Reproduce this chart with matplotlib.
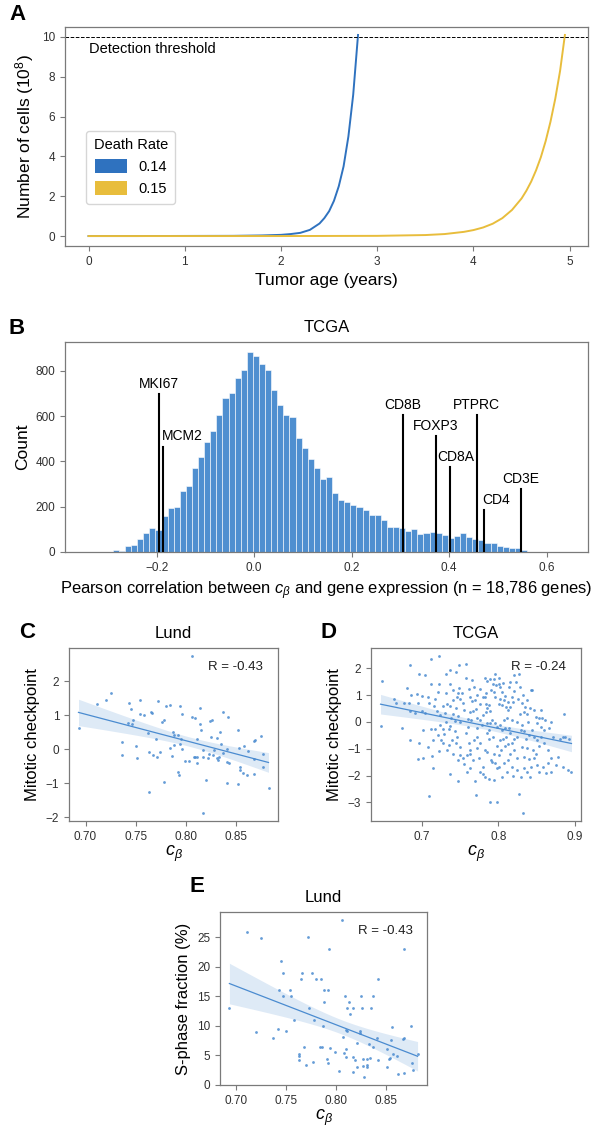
import matplotlib
matplotlib.use("Agg")
import matplotlib.pyplot as plt
from matplotlib.patches import Patch
import numpy as np

plt.rcParams['font.family'] = ['Liberation Sans', 'DejaVu Sans']
plt.rcParams['mathtext.fontset'] = 'custom'
plt.rcParams['mathtext.it'] = 'Liberation Sans:italic'
plt.rcParams['mathtext.rm'] = 'Liberation Sans'

# ---- panel A: tumour growth curves
blue_t = [0.0, 0.5, 1.0, 1.5, 1.8, 2.0, 2.1, 2.2, 2.3, 2.4, 2.45, 2.5, 2.55, 2.6, 2.65, 2.7, 2.75, 2.8]
blue_n = [0.0, 0.0, 0.005, 0.01, 0.03, 0.06, 0.1, 0.16, 0.31, 0.63, 0.9, 1.25, 1.77, 2.5, 3.5, 5.0, 7.1, 10.1]
yellow_t = [0.0, 1.0, 2.0, 3.0, 3.5, 3.7, 3.9, 4.0, 4.1, 4.2, 4.3, 4.4, 4.5, 4.55, 4.6, 4.65, 4.7,
            4.75, 4.8, 4.85, 4.9, 4.95]
yellow_n = [0.0, 0.0, 0.0, 0.01, 0.05, 0.1, 0.21, 0.3, 0.43, 0.62, 0.9, 1.31, 1.89, 2.28, 2.74, 3.3, 3.96,
            4.77, 5.74, 6.9, 8.3, 10.1]
death_rates = ["0.14", "0.15"]

# ---- panel B: histogram of correlations (bin width 0.0125 starting at -0.29)
hist_start = -0.29
bin_width = 0.0125
hist_counts = [7, 3, 26, 29, 56, 82, 106, 99, 160, 193,
               200, 269, 293, 372, 419, 486, 532, 603, 679, 700,
               768, 804, 882, 865, 828, 805, 715, 649, 605, 598,
               503, 458, 410, 372, 322, 332, 260, 229, 219, 207,
               200, 186, 162, 164, 140, 110, 110, 104, 93, 100,
               79, 82, 90, 86, 76, 64, 72, 84, 67, 57,
               54, 39, 41, 26, 23, 19, 19, 9, 1, 0, 2]
genes = ["MKI67", "MCM2", "CD8B", "FOXP3", "CD8A", "PTPRC", "CD4", "CD3E"]
gene_corr = [-0.1946, -0.1864, 0.3046, 0.373, 0.4023, 0.457, 0.472, 0.547]
gene_height = [698, 465, 605, 512, 375, 605, 186, 279]

# ---- panel C: Lund, c_beta vs mitotic checkpoint
lund_mitotic = [
    (0.806, 2.74), (0.725, 1.66), (0.720, 1.43), (0.711, 1.34), (0.693, 0.62), (0.743, 1.36),
    (0.754, 1.43), (0.745, 1.17), (0.772, 1.40), (0.780, 1.28), (0.784, 1.30), (0.794, 1.27),
    (0.754, 1.03), (0.758, 1.01), (0.765, 1.08), (0.766, 1.06), (0.747, 0.86), (0.742, 0.77),
    (0.746, 0.74), (0.776, 0.81), (0.778, 0.86), (0.796, 1.04), (0.806, 0.94), (0.809, 0.92),
    (0.814, 1.20), (0.814, 0.74), (0.815, 0.56), (0.824, 0.82), (0.826, 0.86), (0.837, 1.10),
    (0.842, 0.94), (0.852, 0.56), (0.875, 0.40), (0.762, 0.47), (0.770, 0.31), (0.787, 0.50),
    (0.788, 0.41), (0.792, 0.43), (0.795, 0.30), (0.788, 0.12), (0.784, 0.03), (0.794, 0.14),
    (0.796, 0.00), (0.786, -0.20), (0.736, 0.21), (0.736, -0.18), (0.750, 0.09), (0.751, -0.27),
    (0.763, -0.08), (0.767, -0.16), (0.771, -0.23), (0.774, -0.09), (0.778, -0.96), (0.763, -1.27),
    (0.792, -0.66), (0.793, -0.75), (0.799, -0.34), (0.803, -0.36), (0.808, -0.22), (0.809, -0.22),
    (0.811, -0.22), (0.811, -0.41), (0.811, 0.29), (0.817, -0.02), (0.817, -0.22), (0.820, -0.91),
    (0.817, -1.88), (0.822, -0.27), (0.825, 0.35), (0.828, -0.03), (0.827, -0.17), (0.831, -0.25),
    (0.832, -0.31), (0.833, -0.24), (0.831, 0.33), (0.834, 0.50), (0.835, 0.16), (0.837, -0.11),
    (0.841, -0.39), (0.841, -1.00), (0.853, 0.03), (0.858, 0.08), (0.862, -0.05), (0.852, -1.03),
    (0.854, -0.52), (0.854, -0.61), (0.857, -0.70), (0.861, -0.75), (0.868, -0.73), (0.868, 0.24),
    (0.869, 0.28), (0.877, -0.15), (0.877, -0.53), (0.882, -1.15), (0.841, -0.01), (0.843, -0.41),
    (0.868, -0.29), (0.823, -0.13)]

# ---- panel D: TCGA, c_beta vs mitotic checkpoint
tcga_mitotic = [
    (0.6456, -0.16), (0.6478, 1.52), (0.6836, 2.12), (0.712, 2.35), (0.7221, 2.46), (0.6956, 1.78),
    (0.704, 1.75), (0.7124, 1.43), (0.7221, 1.43), (0.7487, 2.12), (0.758, 2.17), (0.7367, 1.93),
    (0.7314, 1.78), (0.7451, 1.85), (0.7575, 1.65), (0.7367, 1.42), (0.748, 1.28), (0.68, 1.27),
    (0.685, 1.01), (0.693, 1.03), (0.70, 0.96), (0.6633, 0.85), (0.6664, 0.71), (0.676, 0.70),
    (0.6827, 0.69), (0.6836, 0.39), (0.6911, 0.34), (0.6942, 0.71), (0.70, 0.39), (0.7044, 0.34),
    (0.7088, 0.71), (0.708, 0.91), (0.716, 0.61), (0.7195, 0.40), (0.723, 0.26), (0.7274, 0.61),
    (0.7301, 0.34), (0.7332, 0.68), (0.6743, -0.24), (0.7018, -0.31), (0.7115, -0.28), (0.6956, -0.80),
    (0.6836, -0.69), (0.7009, -1.33), (0.6947, -1.39), (0.7133, -1.28), (0.715, -1.71), (0.722, -1.08),
    (0.7248, -0.66), (0.7164, -0.28), (0.7239, -0.12), (0.7292, -0.46), (0.7274, -0.80), (0.7327, -1.05),
    (0.7367, -1.93), (0.7473, -2.22), (0.7088, -2.76), (0.7708, -2.74), (0.7894, -2.98), (0.7978, -2.98),
    (0.827, -2.67), (0.8319, -3.40), (0.7363, -0.15), (0.738, 0.15), (0.7407, 0.31), (0.7442, 0.51),
    (0.746, 0.93), (0.7478, 1.09), (0.7518, 1.06), (0.75, 0.85), (0.7531, 0.69), (0.7549, 0.46),
    (0.7478, 0.21), (0.75, 0.01), (0.7434, -0.33), (0.746, -0.57), (0.7442, -0.80), (0.7504, -1.24),
    (0.7544, -1.33), (0.7584, -1.24), (0.7628, -1.71), (0.7611, -0.78), (0.7575, -0.43), (0.7602, -0.19),
    (0.7646, 0.06), (0.7602, 0.11), (0.7624, 0.37), (0.7673, 0.40), (0.7708, 0.49), (0.77, 0.83),
    (0.7655, 0.77), (0.7628, 0.93), (0.7611, 1.24), (0.7717, 1.0), (0.7761, 1.24), (0.7797, 0.93),
    (0.7761, 0.68), (0.7726, 0.16), (0.7761, 0.06), (0.7805, 0.24), (0.7783, -0.12), (0.7726, -0.21),
    (0.7726, -0.56), (0.7681, -0.68), (0.7761, -0.80), (0.7717, -0.99), (0.7823, -1.05), (0.7743, -1.33),
    (0.7628, -1.21), (0.7805, -1.67), (0.7699, -2.22), (0.7903, -1.42), (0.792, -1.49), (0.7938, -1.18),
    (0.7982, -1.73), (0.8005, -1.67), (0.7929, -0.56), (0.7858, -0.41), (0.7872, -0.62), (0.7881, -0.31),
    (0.7849, -0.06), (0.7894, -0.06), (0.7916, 0.06), (0.7841, 0.37), (0.7858, 0.50), (0.7894, 0.40),
    (0.7876, 0.62), (0.7841, 0.68), (0.7827, 0.93), (0.7841, 1.06), (0.7832, 1.65), (0.785, 1.53),
    (0.7894, 1.58), (0.7929, 1.43), (0.7947, 1.58), (0.7973, 1.37), (0.8005, 1.43), (0.8027, 1.31),
    (0.8062, 1.45), (0.7956, 1.80), (0.8009, 1.62), (0.7911, 1.18), (0.7947, 1.12), (0.8049, 1.12),
    (0.8093, 0.96), (0.8071, 0.83), (0.8027, 0.87), (0.7960, 0.91), (0.8005, 0.68), (0.8049, 0.62),
    (0.8106, 0.56), (0.8124, 0.44), (0.8159, 0.56), (0.8195, 0.75), (0.8133, 0.75), (0.8181, 0.93),
    (0.8257, 0.87), (0.8204, 1.16), (0.8137, 1.31), (0.8159, 1.49), (0.8239, 1.49), (0.8204, 1.74),
    (0.8274, 1.80), (0.8425, 1.18), (0.8279, 1.31), (0.8283, 0.31), (0.8336, 0.37), (0.8381, 0.29),
    (0.8469, 0.46), (0.8491, 0.19), (0.8389, 0.0), (0.8314, -0.12), (0.8248, 0.0), (0.8181, 0.06),
    (0.8115, 0.16), (0.8071, 0.06), (0.8027, -0.12), (0.7982, -0.19), (0.7960, -0.06), (0.8049, -0.31),
    (0.8093, -0.21), (0.8137, -0.21), (0.8159, -0.43), (0.8106, -0.56), (0.8062, -0.62), (0.8018, -0.68),
    (0.7982, -0.90), (0.8036, -1.03), (0.8093, -0.90), (0.8124, -0.83), (0.8181, -0.80), (0.8204, -0.62),
    (0.8248, -0.56), (0.8292, -0.31), (0.8336, -0.33), (0.8358, -0.62), (0.8403, -0.49), (0.8447, -0.31),
    (0.8469, -0.56), (0.8314, -0.93), (0.8381, -0.99), (0.8460, -1.03), (0.8496, -1.18), (0.8469, -1.36),
    (0.8407, -1.40), (0.8336, -1.30), (0.8248, -1.36), (0.8212, -1.05), (0.815, -1.18), (0.8124, -1.42),
    (0.8071, -1.55), (0.8181, -1.67), (0.8248, -1.80), (0.8195, -2.02), (0.8336, -1.73), (0.8381, -1.86),
    (0.8416, -2.04), (0.8535, -1.86), (0.8624, -1.92), (0.8690, -1.33), (0.8646, -1.52), (0.8779, -1.30),
    (0.8845, -1.67), (0.8912, -1.80), (0.8960, -1.87), (0.8513, -0.06), (0.8558, -0.19), (0.8602, -0.31),
    (0.8668, -0.21), (0.8712, -0.56), (0.8567, -0.56), (0.8602, -0.80), (0.8646, -1.05), (0.8535, -0.90),
    (0.8513, -0.68), (0.858, 0.16), (0.8611, 0.06), (0.869, 0.01), (0.8558, 0.44), (0.8867, 0.29),
    (0.8438, 1.18), (0.8314, 0.69), (0.8350, 0.56), (0.8381, 0.81), (0.8327, 1.0), (0.8416, 0.50),
    (0.8535, 0.16), (0.8845, -0.56), (0.8814, -0.63), (0.8934, -0.62), (0.8881, -0.58), (0.7805, -1.93),
    (0.7872, -2.14), (0.7960, -1.55), (0.8005, -1.24), (0.7849, -1.11), (0.7628, -1.05), (0.7496, -0.93),
    (0.7398, -0.68), (0.7350, -0.87), (0.7651, 1.55), (0.7681, 1.31), (0.7407, 1.18), (0.7319, 1.06),
    (0.7208, 1.12), (0.7164, 0.87), (0.7407, 0.81), (0.7371, 0.59), (0.7438, 0.04), (0.7354, -0.28),
    (0.7310, 0.0), (0.7274, -0.25), (0.7208, -0.49), (0.7142, -0.68), (0.7075, -0.93), (0.7407, -1.18),
    (0.7473, -1.42), (0.7549, -1.57), (0.7584, -1.86), (0.7673, -1.42), (0.7761, -1.86), (0.7827, -2.07),
    (0.7938, -2.17), (0.8049, -2.04), (0.8115, -1.86), (0.8292, -2.04), (0.8425, -1.67), (0.8513, -1.61),
    (0.8593, -1.67), (0.869, -1.86), (0.8757, -1.61)]

# ---- panel E: Lund, c_beta vs S-phase fraction
lund_sphase = [
    (0.8054, 27.98), (0.7113, 25.96), (0.7255, 24.94), (0.7719, 25.0), (0.7934, 23.03), (0.868, 23.03),
    (0.745, 21.0), (0.7467, 18.93), (0.766, 18.93), (0.7759, 18.93), (0.7653, 17.98), (0.7798, 17.98),
    (0.7845, 17.98), (0.8415, 17.98), (0.743, 16.0), (0.747, 15.0), (0.754, 16.0), (0.7547, 15.0),
    (0.7878, 16.0), (0.7924, 16.0), (0.7878, 14.04), (0.7735, 13.03), (0.809, 15.0), (0.813, 14.04),
    (0.8107, 13.03), (0.8166, 13.03), (0.8136, 12.02), (0.8252, 15.0), (0.8259, 13.03), (0.8365, 15.0),
    (0.8345, 13.03), (0.6937, 13.09), (0.7583, 10.95), (0.7779, 10.95), (0.7871, 9.94), (0.81, 9.27),
    (0.8107, 9.04), (0.807, 8.15), (0.8239, 9.04), (0.8239, 8.7), (0.8411, 7.92), (0.856, 9.72),
    (0.8677, 7.92), (0.8743, 10.0), (0.7202, 8.93), (0.7368, 7.87), (0.742, 9.38), (0.7497, 9.16),
    (0.7676, 6.35), (0.7838, 6.35), (0.7858, 6.35), (0.7944, 6.24), (0.7987, 5.56), (0.8094, 6.0),
    (0.8206, 7.02), (0.8325, 6.91), (0.8372, 6.46), (0.8511, 6.01), (0.855, 7.53), (0.867, 7.81),
    (0.7633, 5.22), (0.763, 4.94), (0.7633, 4.16), (0.8083, 5.34), (0.8094, 4.72), (0.8173, 4.66),
    (0.819, 4.16), (0.8266, 4.38), (0.8305, 4.38), (0.8342, 4.6), (0.8418, 4.21), (0.8531, 4.38),
    (0.854, 4.6), (0.8567, 5.28), (0.8603, 4.94), (0.8756, 3.65), (0.8763, 2.53), (0.8812, 5.22),
    (0.7702, 3.31), (0.7769, 3.82), (0.7911, 4.33), (0.7924, 3.65), (0.8024, 2.25), (0.817, 2.08),
    (0.8209, 2.98), (0.8269, 3.2), (0.8282, 1.29), (0.8309, 3.31), (0.8309, 2.98), (0.8511, 2.98),
    (0.8617, 1.85), (0.8677, 2.02)]

r_labels = ["R = -0.43", "R = -0.24", "R = -0.43"]

W, H = 595, 1132
SPINE = '#7a7a7a'
BLUE = '#4a8bd0'


def px_axes(fig, left, top, right, bottom):
    return fig.add_axes([left / W, 1 - bottom / H, (right - left) / W, (bottom - top) / H])


def style_axes(ax, ticksize=8.5):
    for s in ax.spines.values():
        s.set_color(SPINE)
        s.set_linewidth(0.9)
    ax.tick_params(colors=SPINE, labelcolor='#303030', labelsize=ticksize, length=3.5, width=0.8)


def reg_panel(ax, points, r_text, title, ylabel):
    x = np.array([p[0] for p in points])
    y = np.array([p[1] for p in points])
    ax.scatter(x, y, s=4, color=BLUE, alpha=0.85, linewidths=0, zorder=3)
    # least squares fit with an analytic 95% band
    b, a = np.polyfit(x, y, 1)
    xs = np.linspace(x.min(), x.max(), 100)
    yh = a + b * xs
    n = len(x)
    resid = y - (a + b * x)
    s = np.sqrt(np.sum(resid ** 2) / (n - 2))
    sxx = np.sum((x - x.mean()) ** 2)
    se = s * np.sqrt(1.0 / n + (xs - x.mean()) ** 2 / sxx)
    ax.fill_between(xs, yh - 1.98 * se, yh + 1.98 * se, color=BLUE, alpha=0.18, linewidth=0, zorder=2)
    ax.plot(xs, yh, color=BLUE, lw=0.9, zorder=4)
    ax.text(0.93, 0.89, r_text, transform=ax.transAxes, ha='right', va='center', fontsize=9.5, color='#202020')
    ax.set_title(title, fontsize=12, pad=7)
    ax.set_ylabel(ylabel, fontsize=12)
    ax.set_xlabel(r'$c_\beta$', fontsize=13, labelpad=1)
    style_axes(ax)


fig = plt.figure(figsize=(W / 100, H / 100), dpi=100)

# panel A
axA = px_axes(fig, 65, 27, 588, 246)
axA.plot(blue_t, blue_n, color='#2f72bf', lw=1.4)
axA.plot(yellow_t, yellow_n, color='#e8bd3c', lw=1.4)
axA.set_ylim(-0.5, 10.5)
axA.set_xlim(-0.245, 5.19)
axA.axhline(10, color='black', ls='--', lw=0.7)
axA.text(0, 9.4, "Detection threshold", fontsize=10.5, va='center', ha='left')
axA.set_yticks([0, 2, 4, 6, 8, 10])
axA.set_xlabel("Tumor age (years)", fontsize=12.5)
axA.set_ylabel("Number of cells ($\\mathregular{10^8}$)", fontsize=12.5)
handles = [Patch(facecolor='#2f72bf', edgecolor='none'), Patch(facecolor='#e8bd3c', edgecolor='none')]
leg = axA.legend(handles, death_rates, title="Death Rate", loc='upper left', bbox_to_anchor=(0.027, 0.56),
                 fontsize=10.5, title_fontsize=10.5, handlelength=2.2, handleheight=1.1, frameon=True,
                 fancybox=True, borderpad=0.5)
leg.get_frame().set_edgecolor('#cccccc')
style_axes(axA)

# panel B
axB = px_axes(fig, 65, 342, 588, 552)
left_edges = [hist_start + i * bin_width for i in range(len(hist_counts))]
axB.bar(left_edges, hist_counts, width=bin_width, align='edge', color='#4f8fd0',
        edgecolor='white', linewidth=0.4)
for g, gx, gh in zip(genes, gene_corr, gene_height):
    axB.plot([gx, gx], [0, gh], color='black', lw=1.5, zorder=5)
    ha = 'center'
    tx = gx
    if g == 'MCM2':
        ha, tx = 'left', gx - 0.002
    elif g == 'CD4':
        ha, tx = 'left', gx - 0.004
    elif g == 'CD8A':
        tx = gx + 0.011
    axB.text(tx, gh + 14, g, ha=ha, va='bottom', fontsize=10)
axB.set_xlim(-0.388, 0.685)
axB.set_ylim(0, 927)
axB.set_xticks([-0.2, 0.0, 0.2, 0.4, 0.6])
axB.set_xticklabels(["\u22120.2", "0.0", "0.2", "0.4", "0.6"])
axB.set_yticks([0, 200, 400, 600, 800])
axB.set_title("TCGA", fontsize=12, pad=7)
axB.set_ylabel("Count", fontsize=12.5)
axB.set_xlabel("Pearson correlation between $c_\\beta$ and gene expression (n = 18,786 genes)", fontsize=11.9)
style_axes(axB)

# panel C
axC = px_axes(fig, 69, 648, 278, 821)
reg_panel(axC, lund_mitotic, r_labels[0], "Lund", "Mitotic checkpoint")
axC.set_xticks([0.70, 0.75, 0.80, 0.85])
axC.set_xticklabels(["0.70", "0.75", "0.80", "0.85"])
axC.set_yticks([-2, -1, 0, 1, 2])
axC.set_yticklabels(["\u22122", "\u22121", "0", "1", "2"])

# panel D
axD = px_axes(fig, 371, 648, 581, 821)
reg_panel(axD, tcga_mitotic, r_labels[1], "TCGA", "Mitotic checkpoint")
axD.set_xticks([0.7, 0.8, 0.9])
axD.set_yticks([-3, -2, -1, 0, 1, 2])
axD.set_yticklabels(["\u22123", "\u22122", "\u22121", "0", "1", "2"])

# panel E
axE = px_axes(fig, 220, 912, 427, 1085)
reg_panel(axE, lund_sphase, r_labels[2], "Lund", "S-phase fraction (%)")
axE.set_xticks([0.70, 0.75, 0.80, 0.85])
axE.set_xticklabels(["0.70", "0.75", "0.80", "0.85"])
axE.set_yticks([0, 5, 10, 15, 20, 25])

# panel letters
for letter, (lx, ly) in zip("ABCDE", [(17, 15), (17, 328), (27, 633), (328, 633), (197, 887)]):
    fig.text(lx / W, 1 - ly / H, letter, fontsize=16, fontweight='bold', ha='center', va='center')

fig.savefig("out.png", dpi=100)
